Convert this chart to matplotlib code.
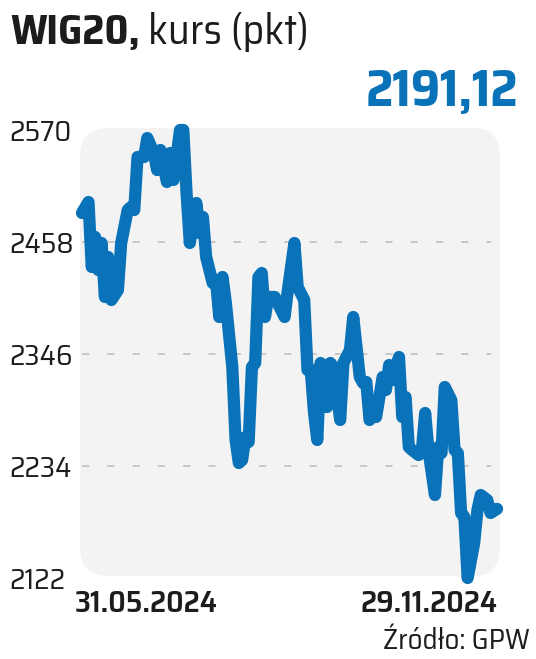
import matplotlib
matplotlib.use("Agg")
import matplotlib.pyplot as plt
from matplotlib.patches import FancyBboxPatch
from matplotlib import font_manager

# trading-day index and closing level (pkt)
days = [0, 2, 3, 4, 5, 6, 7, 8, 9, 11, 12, 14, 15, 16, 17, 19, 20, 22, 23, 24,
        26, 27, 28, 30, 31, 32, 33, 35, 36, 37, 38, 40, 41, 42, 43, 44, 46, 47, 48, 49,
        50, 51, 52, 53, 54, 55, 56, 57, 59, 62, 63, 65, 66, 68, 69, 70, 71, 72, 73, 75,
        76, 77, 79, 80, 82, 83, 85, 86, 87, 88, 89, 90, 92, 93, 94, 95, 97, 98, 99, 100,
        101, 103, 104, 105, 106, 108, 109, 110, 111, 113, 114, 115, 116, 117, 118, 120,
        121, 122, 124, 125, 127]
wig20 = [2487, 2498, 2433, 2463, 2430, 2457, 2403, 2443, 2400, 2410, 2457, 2490, 2493, 2490, 2543, 2543, 2562, 2547, 2530, 2550,
         2518, 2547, 2520, 2570, 2570, 2507, 2457, 2497, 2467, 2483, 2443, 2417, 2420, 2383, 2423, 2398, 2333, 2260, 2237, 2240,
         2263, 2258, 2333, 2337, 2423, 2427, 2383, 2403, 2403, 2383, 2410, 2457, 2413, 2400, 2330, 2330, 2287, 2260, 2337, 2293,
         2337, 2333, 2280, 2337, 2350, 2383, 2323, 2317, 2318, 2280, 2293, 2283, 2323, 2310, 2335, 2320, 2343, 2283, 2303, 2253,
         2250, 2245, 2250, 2287, 2250, 2205, 2253, 2247, 2313, 2300, 2250, 2247, 2187, 2183, 2122, 2157,
         2190, 2205, 2200, 2187, 2191.12]
y_ticks = [2122, 2234, 2346, 2458, 2570]
grid_levels = [2234, 2346, 2458]
date_labels = ["31.05.2024", "29.11.2024"]
last_value = "2191,12"

names = {f.name for f in font_manager.fontManager.ttflist}
font = next((n for n in ["Saira SemiCondensed", "Roboto Condensed", "Liberation Sans Narrow"]
             if n in names), "DejaVu Sans")
scale = 1.0 if font != "DejaVu Sans" else 0.82
plt.rcParams["font.family"] = [font, "DejaVu Sans"]

BLUE = "#0a72b8"
DARK = "#1c1c1c"
W, H = 536, 659
fig = plt.figure(figsize=(W / 100, H / 100), dpi=100)

# rounded grey panel (in inches so corners stay round)
panel = FancyBboxPatch((0.80, (H - 576) / 100), 4.20, (576 - 128) / 100,
                       boxstyle="round,pad=0,rounding_size=0.28",
                       transform=fig.dpi_scale_trans, facecolor="#f3f3f3",
                       edgecolor="none", zorder=-5)
fig.patches.append(panel)

ax = fig.add_axes([80 / W, (H - 578) / H, 420 / W, 450 / H])
ax.set_facecolor("none")
ax.set_xlim(-0.6, 127.9)
ax.set_ylim(2122, 2572)
for s in ax.spines.values():
    s.set_visible(False)

ax.hlines(grid_levels, 0, 125, colors="#c4c4c4", linewidth=1.3,
          linestyles=(0, (4, 10)), zorder=1)
ax.plot(days, wig20, color=BLUE, linewidth=8.8, solid_joinstyle="round",
        solid_capstyle="round", clip_on=False, zorder=3)

ax.set_xticks([])
ax.set_yticks(y_ticks)
ax.set_yticklabels([str(v) for v in y_ticks], fontsize=21 * scale, color=DARK, ha="left")
ax.tick_params(axis="y", length=0, pad=51)

fig.text(10 / W, 1 - 32 / H, "WIG20,", fontsize=30 * scale, fontweight="bold",
         color=DARK, va="center", ha="left")
fig.text(148 / W, 1 - 32 / H, "kurs (pkt)", fontsize=30 * scale, color=DARK,
         va="center", ha="left")
fig.text(518 / W, 1 - 91 / H, last_value, fontsize=37 * scale, fontweight="bold",
         color=BLUE, va="center", ha="right")
fig.text(75 / W, 1 - 604 / H, date_labels[0], fontsize=22 * scale, fontweight="semibold",
         color=DARK, va="center", ha="left")
fig.text(498 / W, 1 - 604 / H, date_labels[1], fontsize=22 * scale, fontweight="semibold",
         color=DARK, va="center", ha="right")
fig.text(530 / W, 1 - 641 / H, "Źródło: GPW", fontsize=21 * scale, color=DARK,
         va="center", ha="right")

fig.savefig("out.png", dpi=100)
